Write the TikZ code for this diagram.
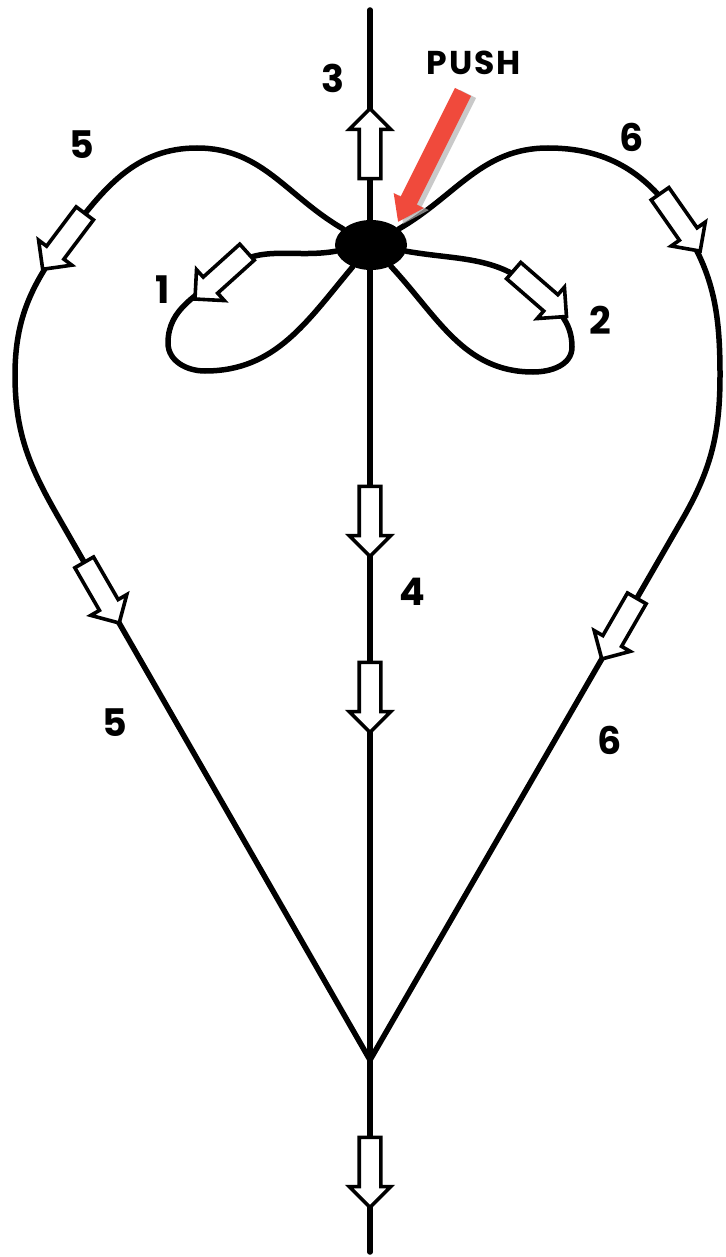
\documentclass[tikz,border=0pt]{standalone}
\usepackage{fontspec}
\setmainfont{Poppins}
\usetikzlibrary{positioning,arrows.meta,calc,backgrounds,shapes.geometric,shapes.arrows}
\definecolor{pushred}{RGB}{240,74,60}
\tikzset{
  strand/.style={draw=black,line width=5.5pt,line cap=round,line join=round},
  hollow/.style={single arrow,draw=black,fill=white,line width=3.6pt,inner xsep=0pt,inner ysep=9pt,
    single arrow head extend=10pt,minimum height=70pt},
  num/.style={font=\fontsize{38}{42}\selectfont\bfseries,inner sep=0pt},
  pusharrow/.style={draw=pushred,line width=18pt,-{Triangle[length=24pt,width=32pt]}},
  pushshade/.style={draw=gray!60,opacity=.7,line width=18pt,-{Triangle[length=24pt,width=32pt]}},
}
\begin{document}
\begin{tikzpicture}[x=1pt,y=1pt]
  \useasboundingbox (0,0) rectangle (725,-1257);
  \node[ellipse,fill=black,minimum width=72pt,minimum height=50pt,inner sep=0pt] (knot) at (371,-245) {};

  % hollow arrows on the strands
  \node[hollow,rotate=90]  (a3)   at (370,-149) {};
  \node[hollow,rotate=-90] (a4)   at (370,-516) {};
  \node[hollow,rotate=-90] (a4b)  at (370,-692) {};
  \node[hollow,rotate=-90] (aout) at (370,-1167) {};
  \node[hollow,rotate=222] (a1)   at (225,-272) {};
  \node[hollow,rotate=-41] (a2)   at (536,-290) {};
  \node[hollow,rotate=233] (a5)   at (67,-237) {};
  \node[hollow,rotate=-55] (a6)   at (677,-218) {};
  \node[hollow,rotate=-60] (a5b)  at (99,-588) {};
  \node[hollow,rotate=240] (a6b)  at (622,-624) {};

  \coordinate (vtop) at (370,-10);
  \coordinate (vbot) at (370,-1252);
  \coordinate (vtx)  at (370,-1060);
  \coordinate (ltop) at (197,-148);
  \coordinate (lside) at (15,-375);
  \coordinate (lfoot) at (60,-520);
  \coordinate (rtop) at (548,-148);
  \coordinate (rside) at (720,-375);
  \coordinate (rfoot) at (682,-520);
  \coordinate (l1side) at (168,-343);
  \coordinate (l1bot) at (205,-371);
  \coordinate (l2side) at (572,-347);
  \coordinate (l2bot) at (533,-372);

  \begin{scope}[on background layer]
    \draw[strand] (vtop) -- (vbot);
    \draw[strand] (knot) to[out=150,in=0] (ltop) to[out=180,in=53] (a5.center)
      to[out=233,in=90] (lside) to[out=-90,in=120] (lfoot) -- (a5b.center) -- (vtx);
    \draw[strand] (knot) to[out=30,in=180] (rtop) to[out=0,in=125] (a6.center)
      to[out=-55,in=90] (rside) to[out=-90,in=60] (rfoot) -- (a6b.center) -- (vtx);
    \draw[strand] (knot) to[out=190,in=42] (a1.center) to[out=222,in=90] (l1side)
      to[out=-90,in=180] (l1bot) to[out=0,in=230] (knot);
    \draw[strand] (knot) to[out=-10,in=139] (a2.center) to[out=-41,in=90] (l2side)
      to[out=-90,in=0] (l2bot) to[out=180,in=-47] (knot);
  \end{scope}

  % the push
  \coordinate (pushtail) at (463,-92);
  \coordinate (pushtip) at (398,-222);
  \draw[pushshade] ($(pushtail)+(5,-2)$) -- ($(pushtip)+(5,-2)$);
  \draw[pusharrow] (pushtail) -- (pushtip);
  \node[font=\fontsize{33}{36}\selectfont\bfseries\addfontfeature{LetterSpace=6},inner sep=0pt] (push) at (474,-63) {PUSH};

  \node[num] (n3)  at (333,-78)  {3};
  \node[num] (n5)  at (82,-145)  {5};
  \node[num] (n1)  at (163,-290) {1};
  \node[num] (n2)  at (600,-320) {2};
  \node[num] (n6)  at (632,-137) {6};
  \node[num] (n4)  at (412,-592) {4};
  \node[num] (n5b) at (115,-723) {5};
  \node[num] (n6b) at (610,-740) {6};
\end{tikzpicture}
\end{document}
